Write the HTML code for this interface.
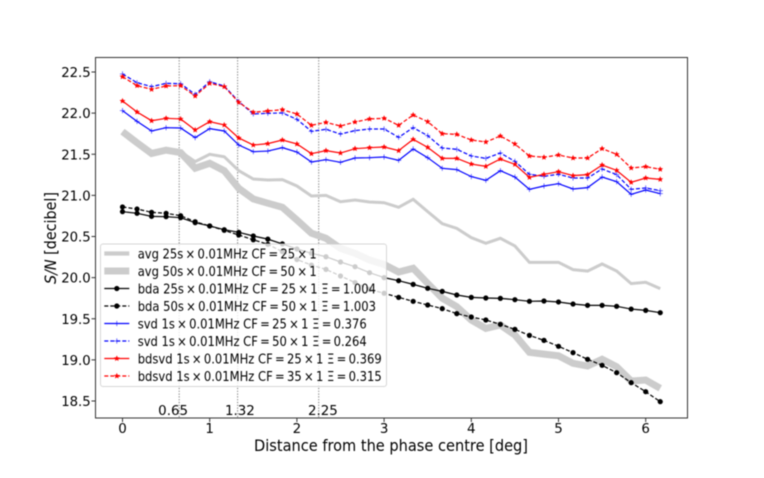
<!DOCTYPE html>
<html>
<head>
<meta charset="utf-8">
<title>S/N versus distance from the phase centre</title>
<style>
html,body{margin:0;padding:0;background:#fff;width:764px;height:478px;overflow:hidden}
svg{display:block;filter:blur(0.5px)}
text{font-family:"DejaVu Sans","Liberation Sans",sans-serif;fill:#000}
</style>
</head>
<body>
<svg id="chart" xmlns="http://www.w3.org/2000/svg" width="764" height="478" viewBox="0 0 764 478"></svg>
<script>
const stepDeg = 1 / 6;
const xTicks = [0, 1, 2, 3, 4, 5, 6];
const yTicks = [18.5, 19.0, 19.5, 20.0, 20.5, 21.0, 21.5, 22.0, 22.5];
const vlineValues = [0.65, 1.32, 2.25];
const vlineLabels = ['0.65', '1.32', '2.25'];

const avg25 = [21.775,21.641,21.503,21.56,21.531,21.41,21.499,21.47,21.3,21.199,21.187,21.191,21.114,20.992,21.0,20.923,20.944,20.92,20.911,20.855,20.952,20.802,20.656,20.599,20.486,20.417,20.478,20.385,20.186,20.186,20.186,20.097,20.08,20.166,20.08,19.927,19.943,19.866];
const avg50 = [21.775,21.64,21.51,21.55,21.52,21.33,21.39,21.3,21.085,20.956,20.905,20.855,20.7,20.54,20.478,20.356,20.295,20.214,20.16,20.068,20.113,19.93,19.75,19.647,19.485,19.383,19.424,19.302,19.092,19.07,19.05,18.958,18.925,19.007,18.917,18.743,18.755,18.654];
const bda25 = [20.802,20.782,20.745,20.741,20.729,20.668,20.628,20.583,20.551,20.506,20.468,20.41,20.348,20.296,20.254,20.19,20.133,20.06,20.0,19.963,19.918,19.87,19.833,19.789,19.76,19.752,19.748,19.732,19.712,19.716,19.704,19.679,19.663,19.663,19.651,19.618,19.602,19.574];
const bda50 = [20.859,20.834,20.794,20.782,20.753,20.68,20.628,20.575,20.518,20.46,20.405,20.316,20.22,20.153,20.1,20.02,19.94,19.857,19.81,19.76,19.712,19.667,19.623,19.562,19.521,19.485,19.432,19.371,19.298,19.237,19.165,19.088,19.007,18.934,18.844,18.723,18.613,18.492];
const svd25 = [22.03,21.9,21.783,21.823,21.819,21.702,21.811,21.783,21.612,21.531,21.539,21.58,21.527,21.406,21.434,21.402,21.454,21.458,21.467,21.426,21.564,21.458,21.329,21.313,21.228,21.183,21.3,21.223,21.073,21.114,21.142,21.078,21.094,21.223,21.167,21.013,21.065,21.021];
const svd50 = [22.476,22.37,22.322,22.362,22.358,22.228,22.382,22.33,22.14,21.99,21.998,22.002,21.925,21.779,21.803,21.746,21.787,21.807,21.807,21.706,21.823,21.726,21.576,21.56,21.479,21.45,21.515,21.414,21.256,21.232,21.256,21.211,21.211,21.321,21.252,21.074,21.09,21.057];
const bdsvd25 = [22.147,22.014,21.908,21.937,21.929,21.795,21.896,21.856,21.698,21.612,21.629,21.673,21.625,21.507,21.544,21.515,21.568,21.58,21.588,21.544,21.681,21.584,21.45,21.45,21.381,21.353,21.442,21.377,21.219,21.256,21.288,21.24,21.252,21.369,21.304,21.159,21.211,21.195];
const bdsvd35 = [22.443,22.334,22.289,22.33,22.334,22.208,22.362,22.322,22.131,22.01,22.026,22.042,21.989,21.852,21.888,21.843,21.892,21.929,21.937,21.852,21.977,21.896,21.75,21.742,21.673,21.649,21.722,21.625,21.479,21.463,21.491,21.454,21.454,21.568,21.499,21.333,21.349,21.317];

const legendLabels = [
  'avg 25s\u2009×\u20090.01MHz CF\u2009=\u200925\u2009×\u20091',
  'avg 50s\u2009×\u20090.01MHz CF\u2009=\u200950\u2009×\u20091',
  'bda 25s\u2009×\u20090.01MHz CF\u2009=\u200925\u2009×\u20091 Ξ\u2009=\u20091.004',
  'bda 50s\u2009×\u20090.01MHz CF\u2009=\u200950\u2009×\u20091 Ξ\u2009=\u20091.003',
  'svd 1s\u2009×\u20090.01MHz CF\u2009=\u200925\u2009×\u20091 Ξ\u2009=\u20090.376',
  'svd 1s\u2009×\u20090.01MHz CF\u2009=\u200950\u2009×\u20091 Ξ\u2009=\u20090.264',
  'bdsvd 1s\u2009×\u20090.01MHz CF\u2009=\u200925\u2009×\u20091 Ξ\u2009=\u20090.369',
  'bdsvd 1s\u2009×\u20090.01MHz CF\u2009=\u200935\u2009×\u20091 Ξ\u2009=\u20090.315'
];

const NS = 'http://www.w3.org/2000/svg';
const svg = document.getElementById('chart');
const plot = {left: 95.5, right: 687.5, top: 57.5, bottom: 418};

function xScale(v) { return 122.5 + v * 87.2; }
function yScale(v) { return 72 + (22.5 - v) * 82.25; }

function mk(tag, attrs, parent) {
  const e = document.createElementNS(NS, tag);
  for (const k in attrs) e.setAttribute(k, attrs[k]);
  (parent || svg).appendChild(e);
  return e;
}
function starPoints(cx, cy, r) {
  const pts = [];
  for (let i = 0; i < 10; i++) {
    const rad = i % 2 ? r * 0.45 : r;
    const a = -Math.PI / 2 + i * Math.PI / 5;
    pts.push((cx + rad * Math.cos(a)).toFixed(2) + ',' + (cy + rad * Math.sin(a)).toFixed(2));
  }
  return pts.join(' ');
}
function drawMarker(kind, color, cx, cy, parent) {
  if (kind === 'circle') {
    return mk('circle', {cx: cx, cy: cy, r: 2.6, fill: color}, parent);
  }
  if (kind === 'plus') {
    return mk('path', {d: 'M' + (cx - 2.6) + ' ' + cy + 'H' + (cx + 2.6) + 'M' + cx + ' ' + (cy - 2.6) + 'V' + (cy + 2.6), stroke: color, 'stroke-width': 0.8, 'stroke-opacity': 0.7, fill: 'none'}, parent);
  }
  if (kind === 'star') {
    return mk('polygon', {points: starPoints(cx, cy, 3.1), fill: color}, parent);
  }
  return null;
}

/* vertical reference lines */
vlineValues.forEach(function (v) {
  const line = mk('line', {x1: xScale(v), x2: xScale(v), y1: plot.top, y2: plot.bottom, stroke: '#777', 'stroke-width': 1, 'stroke-dasharray': '1.2 1.6'});
  
  
});

/* series */
const seriesDefs = [
  {name: 'avg-25s', values: avg25, color: '#cccccc', width: 3, dash: '', marker: '', hw: 4.2},
  {name: 'avg-50s', values: avg50, color: '#cccccc', width: 7, dash: '', marker: '', hw: 7},
  {name: 'bda-25s', values: bda25, color: '#000000', width: 1.2, dash: '', marker: 'circle', hw: 1.2},
  {name: 'bda-50s', values: bda50, color: '#000000', width: 1.2, dash: '4 2', marker: 'circle', hw: 1.2},
  {name: 'svd-25s', values: svd25, color: '#0000ff', width: 1.2, dash: '', marker: 'plus', hw: 1.2},
  {name: 'svd-50s', values: svd50, color: '#0000ff', width: 1.2, dash: '4 2', marker: 'plus', hw: 1.2},
  {name: 'bdsvd-25s', values: bdsvd25, color: '#ff0000', width: 1.2, dash: '', marker: 'star', hw: 1.2},
  {name: 'bdsvd-35s', values: bdsvd35, color: '#ff0000', width: 1.2, dash: '4 2', marker: 'star', hw: 1.2}
];

seriesDefs.forEach(function (s) {
  const g = mk('g', {});
  
  
  const pts = s.values.map(function (v, i) {
    return xScale(i * stepDeg).toFixed(2) + ',' + yScale(v).toFixed(2);
  });
  const attrs = {points: pts.join(' '), fill: 'none', stroke: s.color, 'stroke-width': s.width, 'stroke-linejoin': 'miter'};
  if (s.dash) attrs['stroke-dasharray'] = s.dash;
  const line = mk('polyline', attrs, g);
  
  
  if (s.marker) {
    s.values.forEach(function (v, i) {
      const m = drawMarker(s.marker, s.color, xScale(i * stepDeg), yScale(v), g);
      
      
    });
  }
});

/* axes frame */
const frame = mk('rect', {x: plot.left, y: plot.top, width: plot.right - plot.left, height: plot.bottom - plot.top, fill: 'none', stroke: '#333', 'stroke-width': 1});



/* x ticks */
xTicks.forEach(function (t) {
  const x = xScale(t);
  const tick = mk('line', {x1: x, x2: x, y1: plot.bottom, y2: plot.bottom + 4, stroke: '#333', 'stroke-width': 1});
  
  
  const label = mk('text', {x: x, y: 433, 'text-anchor': 'middle', 'font-size': 13.4});
  label.textContent = String(t);
  
  
});

/* y ticks */
yTicks.forEach(function (t) {
  const y = yScale(t);
  const tick = mk('line', {x1: plot.left - 4, x2: plot.left, y1: y, y2: y, stroke: '#333', 'stroke-width': 1});
  
  
  const label = mk('text', {x: 90.7, y: y + 5, 'text-anchor': 'end', 'font-size': 13.4, textLength: 29.5, lengthAdjust: 'spacingAndGlyphs'});
  label.textContent = t.toFixed(1);
  
  
});

/* vline value labels */
vlineLabels.forEach(function (txt, i) {
  const offs = [-21, -12.6, -10.7];
  const label = mk('text', {x: xScale(vlineValues[i]) + offs[i], y: 415, 'font-size': 13.4});
  label.textContent = txt;
  
  
});

/* axis titles */
const xTitle = mk('text', {x: 254, y: 451, 'font-size': 15.6, textLength: 274, lengthAdjust: 'spacingAndGlyphs'});
xTitle.textContent = 'Distance from the phase centre [deg]';



const yTitle = mk('text', {transform: 'translate(56 284) rotate(-90)', 'font-size': 15.6, textLength: 92, lengthAdjust: 'spacingAndGlyphs'});
const yTitleItalic = mk('tspan', {'font-style': 'italic'}, yTitle);
yTitleItalic.textContent = 'S/N';
const yTitleRest = mk('tspan', {}, yTitle);
yTitleRest.textContent = ' [decibel]';



/* legend */
const legend = mk('g', {});


const legendBox = mk('rect', {x: 100.5, y: 244, width: 286, height: 142.5, rx: 2.5, fill: '#fff', 'fill-opacity': 0.8, stroke: '#ccc', 'stroke-opacity': 0.8, 'stroke-width': 1}, legend);



const legendEnds = [316.7, 316.7, 376, 376, 366.7, 366.7, 381.7, 381.7];
seriesDefs.forEach(function (s, i) {
  const y = 253.5 + i * 17.5;
  const entry = mk('g', {}, legend);
  
  
  const attrs = {x1: 104.3, x2: 129.3, y1: y, y2: y, stroke: s.color, 'stroke-width': s.hw};
  if (s.dash) attrs['stroke-dasharray'] = s.dash;
  const handle = mk('line', attrs, entry);
  
  
  if (s.marker) {
    const m = drawMarker(s.marker, s.color, 116.8, y, entry);
    
    
  }
  const label = mk('text', {x: 137.7, y: y + 4.8, 'font-size': 13.4, textLength: legendEnds[i] - 137.7, lengthAdjust: 'spacingAndGlyphs'}, entry);
  label.textContent = legendLabels[i];
  
  
});
</script>
</body>
</html>
